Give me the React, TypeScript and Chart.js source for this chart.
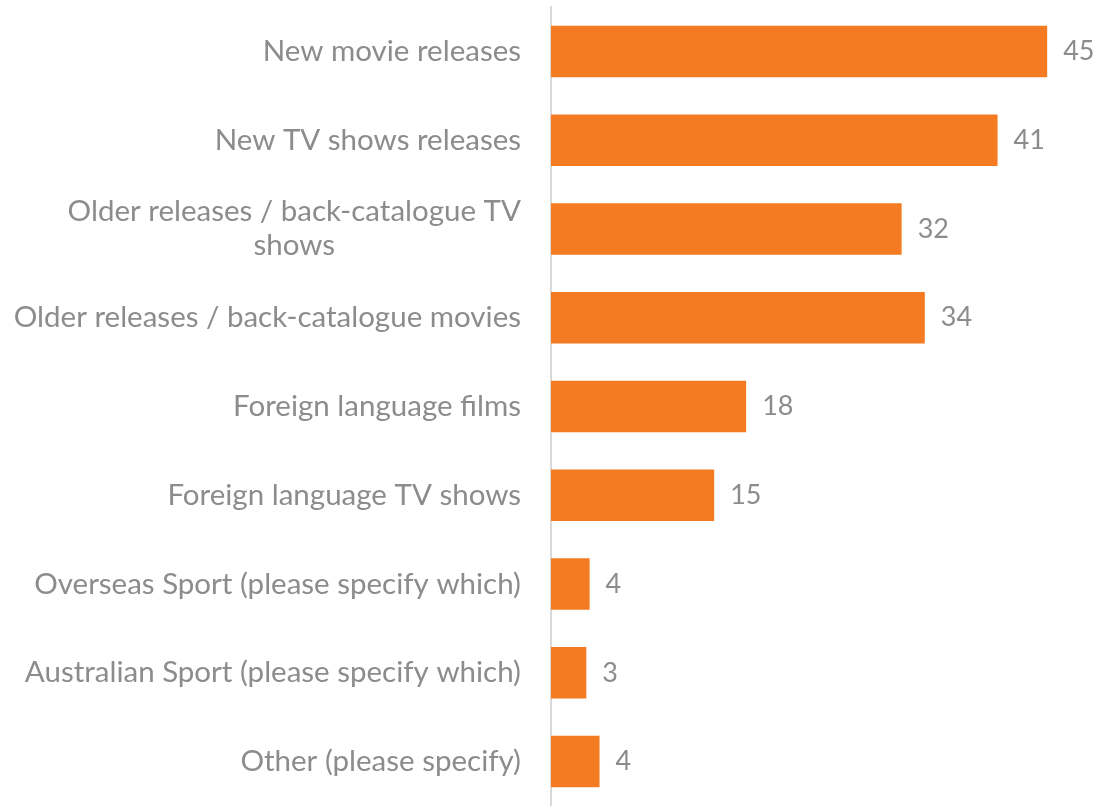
import React, { useEffect, useRef } from "react";
import { Chart, registerables } from "chart.js";

Chart.register(...registerables);

const categories: string[][] = [
  ["New movie releases"],
  ["New TV shows releases"],
  ["Older releases / back-catalogue TV", "shows"],
  ["Older releases / back-catalogue movies"],
  ["Foreign language films"],
  ["Foreign language TV shows"],
  ["Overseas Sport (please specify which)"],
  ["Australian Sport (please specify which)"],
  ["Other (please specify)"],
];
const values: number[] = [45.0, 40.5, 31.8, 33.9, 17.7, 14.8, 3.5, 3.2, 4.4];

const FONT = "Lato";
const LABEL_SIZE = 29.5;
const VALUE_SIZE = 27;
const TEXT_COLOR = "#8c8c8c";
const BAR_COLOR = "#F47B22";

const labelPlugin = {
  id: "customLabels",
  afterDraw(chart: any) {
    const ctx = chart.ctx;
    const yScale = chart.scales.y;
    ctx.save();
    ctx.font = `${LABEL_SIZE}px ${FONT}`;
    ctx.fillStyle = TEXT_COLOR;
    ctx.textBaseline = "middle";
    const lineH = 34;
    const rightEdge = chart.chartArea.left - 30;
    (chart.data.labels as string[][]).forEach((lines, i) => {
      const y = yScale.getPixelForTick(i);
      const widths = lines.map((l) => ctx.measureText(l).width);
      const maxW = Math.max(...widths);
      const cx = rightEdge - maxW / 2;
      ctx.textAlign = "center";
      lines.forEach((l, j) => {
        const ly = y + (j - (lines.length - 1) / 2) * lineH;
        ctx.fillText(l, cx, ly);
      });
    });
    const meta = chart.getDatasetMeta(0);
    ctx.font = `${VALUE_SIZE}px ${FONT}`;
    ctx.textAlign = "left";
    meta.data.forEach((bar: any, i: number) => {
      const v = chart.data.datasets[0].data[i] as number;
      ctx.fillText(String(Math.round(v)), bar.x + 16, bar.y);
    });
    ctx.restore();
  },
};

export default function App() {
  const ref = useRef<HTMLCanvasElement | null>(null);
  useEffect(() => {
    if (!ref.current) return;
    const chart = new Chart(ref.current, {
      type: "bar",
      data: {
        labels: categories as any,
        datasets: [
          {
            data: values,
            backgroundColor: BAR_COLOR,
            borderWidth: 0,
            barPercentage: 0.58,
            categoryPercentage: 1,
          },
        ],
      },
      plugins: [labelPlugin],
      options: {
        indexAxis: "y",
        animation: false,
        responsive: false,
        maintainAspectRatio: false,
        layout: { padding: { top: 7, bottom: 0, left: 0, right: 0 } },
        plugins: { legend: { display: false }, tooltip: { enabled: false } },
        scales: {
          x: {
            display: false,
            min: 0,
            max: 49.7,
          },
          y: {
            grid: { display: false, drawTicks: false },
            border: { display: true, color: "#d9d9d9", width: 2 },
            ticks: { display: false },
            afterFit: (scale: any) => {
              scale.width = 551;
            },
          },
        },
      },
    });
    return () => chart.destroy();
  }, []);
  return (
    <div style={{ position: "absolute", left: 0, top: 0, width: 1099, height: 806, background: "#fff" }}>
      <canvas ref={ref} width={1099} height={806} style={{ width: 1099, height: 806 }} />
    </div>
  );
}
